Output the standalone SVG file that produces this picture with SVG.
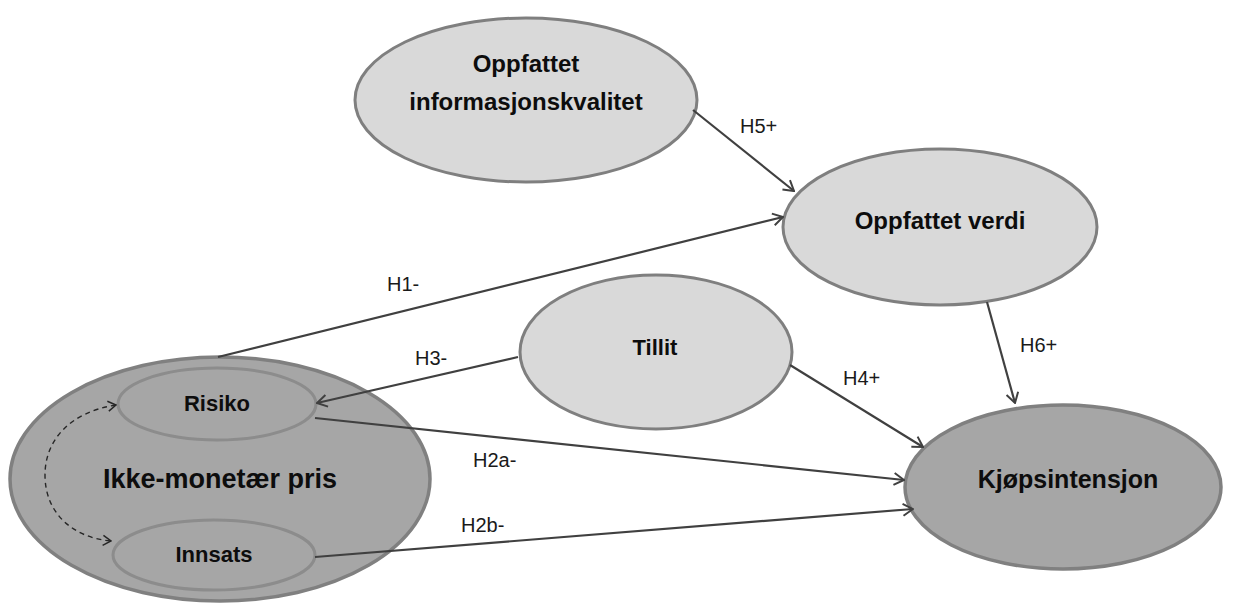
<svg xmlns="http://www.w3.org/2000/svg" width="1236" height="603" viewBox="0 0 1236 603">
<style>
.light{fill:#d9d9d9;stroke:#7f7f7f;stroke-width:3}
.dark{fill:#a6a6a6;stroke:#808080;stroke-width:3.5}
.inner{fill:#a6a6a6;stroke:#8c8c8c;stroke-width:3}
.nt{font-family:"Liberation Sans",Arial,sans-serif;font-weight:bold;fill:#0d0d0d;text-anchor:middle}
.lbl{font-family:"Liberation Sans",Arial,sans-serif;font-size:20px;fill:#1a1a1a}
.edge{stroke:#404040;stroke-width:2.2;fill:none;marker-end:url(#arr)}
.dash{stroke:#262626;stroke-width:1.4;fill:none;stroke-dasharray:5 4;marker-start:url(#arrs);marker-end:url(#arrd)}
</style>
<defs>
<marker id="arr" viewBox="0 0 12 14" refX="11" refY="7" markerWidth="12" markerHeight="14" markerUnits="userSpaceOnUse" orient="auto">
<path d="M1,1 L11,7 L1,13" fill="none" stroke="#404040" stroke-width="2"/>
</marker>
<marker id="arrd" viewBox="0 0 10 12" refX="9" refY="6" markerWidth="10" markerHeight="12" markerUnits="userSpaceOnUse" orient="auto">
<path d="M1,1 L9,6 L1,11" fill="none" stroke="#262626" stroke-width="1.5"/>
</marker>
<marker id="arrs" viewBox="0 0 10 12" refX="9" refY="6" markerWidth="10" markerHeight="12" markerUnits="userSpaceOnUse" orient="auto-start-reverse">
<path d="M1,1 L9,6 L1,11" fill="none" stroke="#262626" stroke-width="1.5"/>
</marker>
</defs>
<rect width="1236" height="603" fill="#ffffff"/>

<g id="node-ikke-monetaer-pris">
<ellipse cx="220" cy="479" rx="210" ry="122" class="dark"/>
<text x="220" y="488" class="nt" font-size="27">Ikke-monetær pris</text>
</g>
<g id="node-risiko">
<ellipse cx="217" cy="404" rx="99" ry="36" class="inner"/>
<text x="217" y="411" class="nt" font-size="22">Risiko</text>
</g>
<g id="node-innsats">
<ellipse cx="214" cy="555" rx="101" ry="35" class="inner"/>
<text x="214" y="562" class="nt" font-size="22">Innsats</text>
</g>
<g id="node-oppfattet-informasjonskvalitet">
<ellipse cx="526" cy="100" rx="171" ry="82" class="light"/>
<text x="526" y="72" class="nt" font-size="24">Oppfattet</text>
<text x="526" y="110" class="nt" font-size="24">informasjonskvalitet</text>
</g>
<g id="node-oppfattet-verdi">
<ellipse cx="940" cy="227" rx="157" ry="78" class="light"/>
<text x="940" y="229" class="nt" font-size="24">Oppfattet verdi</text>
</g>
<g id="node-tillit">
<ellipse cx="656" cy="352" rx="136" ry="77" class="light"/>
<text x="655" y="355" class="nt" font-size="22">Tillit</text>
</g>
<g id="node-kjopsintensjon">
<ellipse cx="1063" cy="487" rx="158" ry="82" class="dark"/>
<text x="1068" y="488" class="nt" font-size="25">Kjøpsintensjon</text>
</g>

<g id="connectors">
<line x1="693" y1="110" x2="794" y2="191" class="edge"/>
<line x1="218" y1="357" x2="783" y2="217" class="edge"/>
<line x1="518" y1="357" x2="317" y2="403" class="edge"/>
<line x1="790" y1="365" x2="923" y2="447" class="edge"/>
<line x1="987" y1="302" x2="1015" y2="403" class="edge"/>
<line x1="315" y1="418" x2="904" y2="480" class="edge"/>
<line x1="315" y1="557" x2="913" y2="509" class="edge"/>
<path d="M116,405 C70,412 45,440 45,475 C45,515 75,538 111,541" class="dash"/>
<text x="740" y="133" class="lbl">H5+</text>
<text x="387" y="291" class="lbl">H1-</text>
<text x="415" y="365" class="lbl">H3-</text>
<text x="843" y="385" class="lbl">H4+</text>
<text x="1020" y="352" class="lbl">H6+</text>
<text x="473" y="467" class="lbl">H2a-</text>
<text x="461" y="532" class="lbl">H2b-</text>
</g>
</svg>
